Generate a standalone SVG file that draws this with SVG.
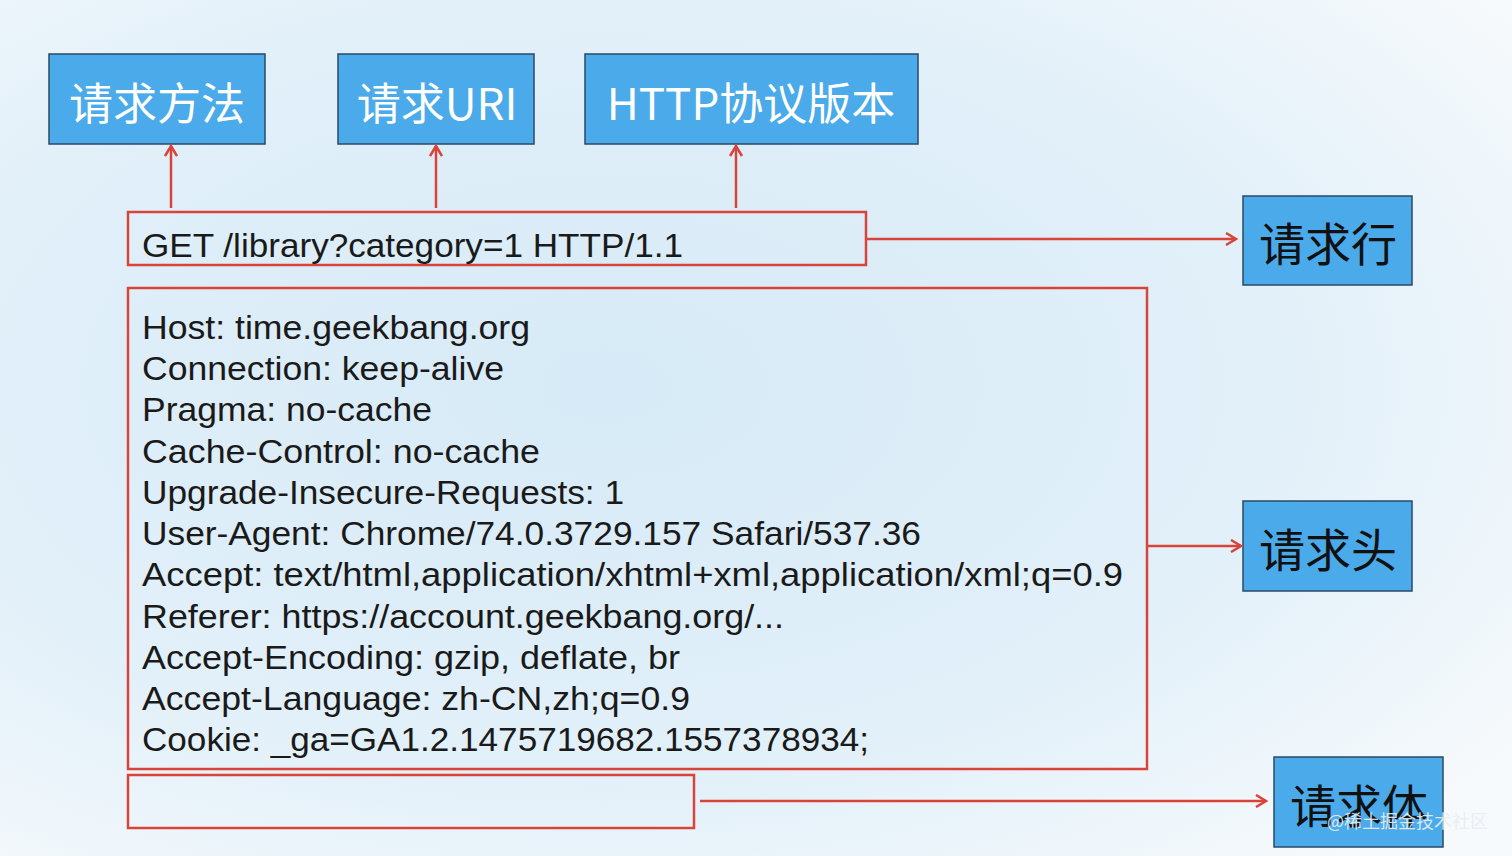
<svg xmlns="http://www.w3.org/2000/svg" width="1512" height="856" viewBox="0 0 1512 856">
<defs>
<radialGradient id="bg" cx="0.4" cy="0.45" r="0.75">
<stop offset="0" stop-color="#d6eaf7"/>
<stop offset="0.6" stop-color="#e2f0f9"/>
<stop offset="1" stop-color="#f7fafc"/>
</radialGradient>
<marker id="ah" markerWidth="14" markerHeight="14" refX="11" refY="7" orient="auto" markerUnits="userSpaceOnUse">
<path d="M1,1 L11,7 L1,13" fill="none" stroke="#d9443a" stroke-width="2.5"/>
</marker>
<style>
.lbl{fill:#4aaaea;stroke:#2a4a66;stroke-width:1.5}
.wt{font-family:"Noto Sans CJK SC","Liberation Sans",sans-serif;font-size:44px;fill:#ffffff;text-anchor:middle;dominant-baseline:central}
.bt{font-family:"Noto Sans CJK SC","Liberation Sans",sans-serif;font-size:46px;fill:#111111;text-anchor:middle;dominant-baseline:central}
.red{fill:none;stroke:#d9443a;stroke-width:2.5}
.con{fill:none;stroke:#d9443a;stroke-width:2.5;marker-end:url(#ah)}
.mono{font-family:"Liberation Sans",Arial,sans-serif;font-size:34px;fill:#1a1a1a}
</style>
</defs>
<rect x="0" y="0" width="1512" height="856" fill="url(#bg)"/>

<g id="method"><rect class="lbl" x="49" y="54" width="216" height="90"/><text class="wt" x="157" y="101">请求方法</text></g>
<g id="uri"><rect class="lbl" x="338" y="54" width="196" height="90"/><text class="wt" x="437" y="101">请求URI</text></g>
<g id="version"><rect class="lbl" x="585" y="54" width="333" height="90"/><text class="wt" x="751" y="101">HTTP协议版本</text></g>

<g id="reqline"><rect class="red" x="128" y="212" width="738" height="53"/><text class="mono" x="142" y="257" textLength="541" lengthAdjust="spacingAndGlyphs">GET /library?category=1 HTTP/1.1</text></g>

<g id="headers"><rect class="red" x="128" y="288" width="1019" height="481"/>
<text class="mono" x="142" y="339" textLength="388" lengthAdjust="spacingAndGlyphs">Host: time.geekbang.org</text>
<text class="mono" x="142" y="380" textLength="362" lengthAdjust="spacingAndGlyphs">Connection: keep-alive</text>
<text class="mono" x="142" y="421" textLength="290" lengthAdjust="spacingAndGlyphs">Pragma: no-cache</text>
<text class="mono" x="142" y="463" textLength="398" lengthAdjust="spacingAndGlyphs">Cache-Control: no-cache</text>
<text class="mono" x="142" y="504" textLength="482" lengthAdjust="spacingAndGlyphs">Upgrade-Insecure-Requests: 1</text>
<text class="mono" x="142" y="545" textLength="779" lengthAdjust="spacingAndGlyphs">User-Agent: Chrome/74.0.3729.157 Safari/537.36</text>
<text class="mono" x="142" y="586" textLength="981" lengthAdjust="spacingAndGlyphs">Accept: text/html,application/xhtml+xml,application/xml;q=0.9</text>
<text class="mono" x="142" y="628" textLength="642" lengthAdjust="spacingAndGlyphs">Referer: https://account.geekbang.org/...</text>
<text class="mono" x="142" y="669" textLength="538" lengthAdjust="spacingAndGlyphs">Accept-Encoding: gzip, deflate, br</text>
<text class="mono" x="142" y="710" textLength="548" lengthAdjust="spacingAndGlyphs">Accept-Language: zh-CN,zh;q=0.9</text>
<text class="mono" x="142" y="751" textLength="727" lengthAdjust="spacingAndGlyphs">Cookie: _ga=GA1.2.1475719682.1557378934;</text>
</g>

<g id="body"><rect class="red" x="128" y="775" width="566" height="53"/></g>

<g id="lineLabel"><rect class="lbl" x="1243" y="196" width="169" height="89"/><text class="bt" x="1328" y="241">请求行</text></g>
<g id="headLabel"><rect class="lbl" x="1243" y="501" width="169" height="90"/><text class="bt" x="1328" y="547">请求头</text></g>
<g id="bodyLabel"><rect class="lbl" x="1274" y="757" width="169" height="90"/><text class="bt" x="1359" y="803">请求体</text></g>

<g id="connectors">
<line class="con" x1="171" y1="208" x2="171" y2="146"/>
<line class="con" x1="436" y1="208" x2="436" y2="146"/>
<line class="con" x1="736" y1="208" x2="736" y2="146"/>
<line class="con" x1="866" y1="239" x2="1236" y2="239"/>
<line class="con" x1="1147" y1="546" x2="1241" y2="546"/>
<line class="con" x1="700" y1="801" x2="1266" y2="801"/>
</g>

<text x="1488" y="828" text-anchor="end" font-family="Noto Sans CJK SC,sans-serif" font-size="18" fill="#e8eef2" opacity="0.9">@稀土掘金技术社区</text>
</svg>
